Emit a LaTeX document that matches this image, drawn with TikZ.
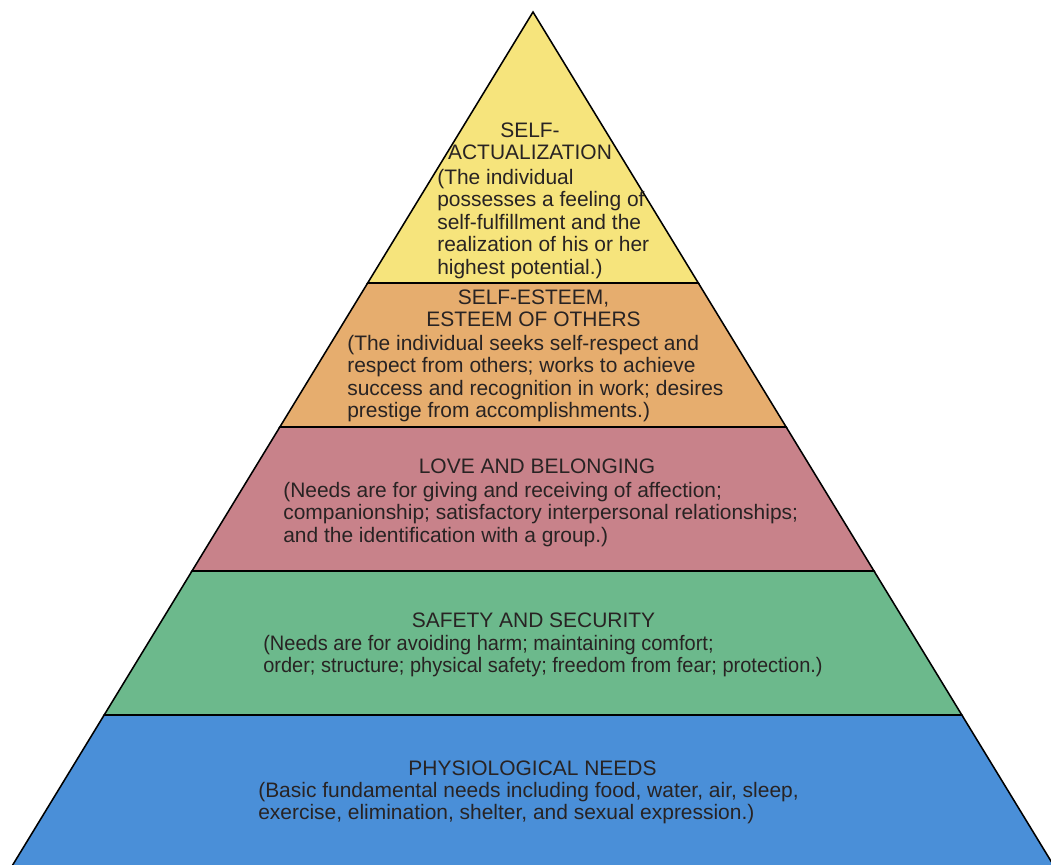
\documentclass[tikz,border=0pt]{standalone}
\usepackage{fontspec}
\setmainfont{Liberation Sans}
\newfontfamily\narrowfont[FakeStretch=0.955]{Liberation Sans}
\usepackage{tikz}
\usetikzlibrary{positioning}

\definecolor{ylw}{RGB}{246,228,124}
\definecolor{org}{RGB}{230,173,110}
\definecolor{pnk}{RGB}{200,130,138}
\definecolor{grn}{RGB}{108,185,140}
\definecolor{blu}{RGB}{74,143,216}
\definecolor{ink}{RGB}{40,35,35}

\newcommand{\pyrfont}{\fontsize{14.9}{16}\selectfont}

\begin{document}
\begin{tikzpicture}[x=0.025cm,y=-0.025cm,
    layer/.style={draw=black,line width=1.1pt,line join=miter},
    title/.style={anchor=north,align=center,inner sep=0pt,text=ink,font=\pyrfont},
    desc/.style={anchor=north west,align=left,inner sep=0pt,text=ink,font=\pyrfont}]
    \clip (0,0) rectangle (1051,865);

    % Layers
    \foreach \ya/\yb/\col in {12/283/ylw,283/427/org,427/571/pnk,571/715/grn,715/880/blu} {
        \filldraw[layer,fill=\col] ({533-0.61*(\ya-12)},\ya) -- ({533+0.61*(\ya-12)},\ya)
            -- ({533+0.61*(\yb-12)},\yb) -- ({533-0.61*(\yb-12)},\yb) -- cycle;
    }

    % Self-actualization
    \node[title] (selfT) at (530,122.5) {SELF-\\ACTUALIZATION};
    \node[desc] (selfD) at (437,169) {(The individual\\possesses a feeling of\\self-fulfillment and the\\realization of his or her\\highest potential.)};

    % Esteem
    \node[title] (estT) at (533.5,289.5) {SELF-ESTEEM,\\ESTEEM OF OTHERS};
    \node[desc] (estD) at (347,335) {(The individual seeks self-respect and\\respect from others; works to achieve\\success and recognition in work; desires\\prestige from accomplishments.)};

    % Love
    \node[title] (loveT) at (537,458.5) {LOVE AND BELONGING};
    \node[desc] (loveD) at (283,482) {(Needs are for giving and receiving of affection;\\companionship; satisfactory interpersonal relationships;\\and the identification with a group.)};

    % Safety
    \node[title] (safeT) at (533.5,612.5) {SAFETY AND SECURITY};
    \node[desc,font=\pyrfont\narrowfont] (safeD) at (263,635) {(Needs are for avoiding harm; maintaining comfort;\\order; structure; physical safety; freedom from fear; protection.)};

    % Physiological
    \node[title] (physT) at (532.5,760.5) {PHYSIOLOGICAL NEEDS};
    \node[desc] (physD) at (258,782) {(Basic fundamental needs including food, water, air, sleep,\\exercise, elimination, shelter, and sexual expression.)};
\end{tikzpicture}
\end{document}
